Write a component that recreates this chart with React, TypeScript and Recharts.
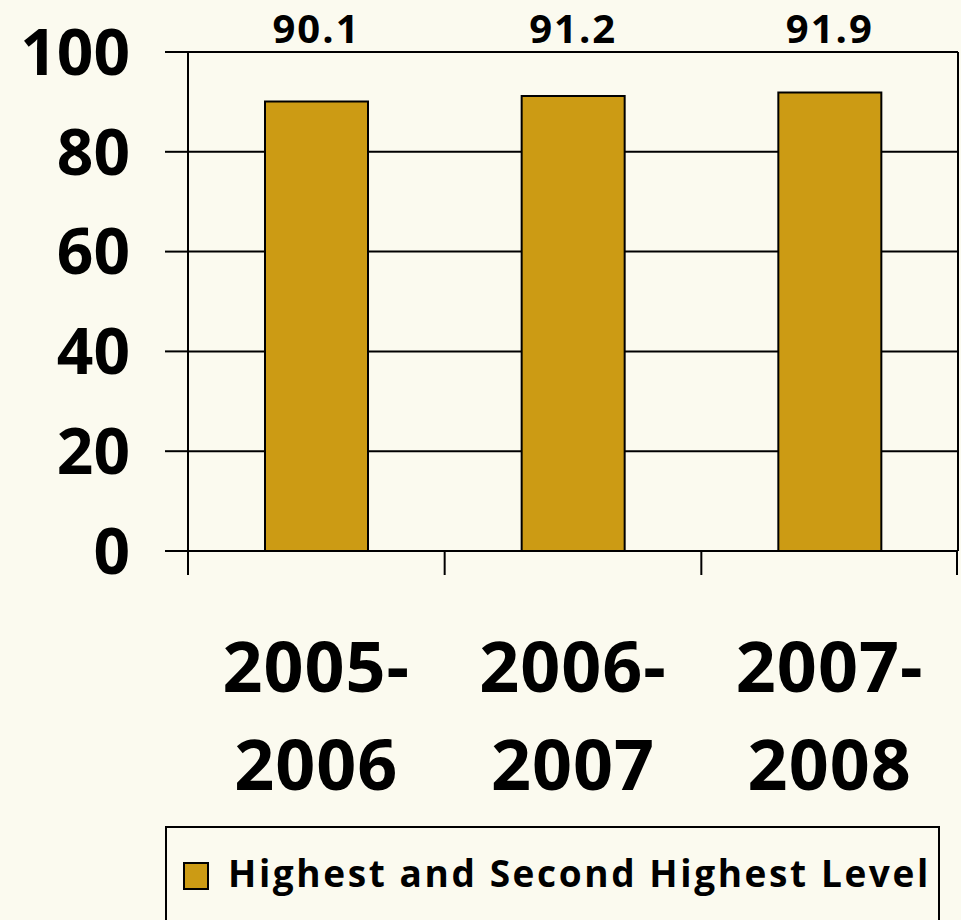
import React from "react";
import { BarChart, Bar, XAxis, YAxis, CartesianGrid, LabelList, Legend } from "recharts";

const categories = ["2005-2006", "2006-2007", "2007-2008"];
const values = [90.1, 91.2, 91.9];
const yTicks = [0, 20, 40, 60, 80, 100];
const seriesName = "Highest and Second Highest Level";

const data = categories.map((c, i) => ({ year: c, value: values[i] }));

const FONT = "'Open Sans', 'DejaVu Sans', sans-serif";
const BAR_COLOR = "#CC9B14";
const BG = "#FBFAEF";

const XTick = (props: any) => {
  const { x, y, payload, index } = props;
  const parts = String(payload.value).split("-");
  const off = Number(payload.offset) || 0;
  const isLast =
    index === categories.length - 1 || String(payload.value) === categories[categories.length - 1];
  return (
    <g>
      {off > 0 && <line x1={x - off} x2={x - off} y1={y} y2={y + 24} stroke="#000" strokeWidth={2} />}
      {off > 0 && isLast && (
        <line x1={x + off - 1} x2={x + off - 1} y1={y - 1} y2={y + 24} stroke="#000" strokeWidth={2} />
      )}
      <text x={x} textAnchor="middle" fontFamily={FONT} fontWeight={700} fontSize={70} fill="#000" letterSpacing={1}>
        <tspan x={x} y={y + 141}>{parts[0] + "-"}</tspan>
        <tspan x={x} y={y + 239}>{parts[1]}</tspan>
      </text>
    </g>
  );
};

const TopLabel = (props: any) => {
  const { x, width, value } = props;
  return (
    <text x={x + width / 2} y={43} textAnchor="middle" fontFamily={FONT} fontWeight={700} fontSize={40} fill="#000" letterSpacing={2}>
      {Number(value).toFixed(1)}
    </text>
  );
};

const LegendBox = () => (
  <div
    style={{
      width: 775,
      height: 110,
      border: "2px solid #000",
      background: "transparent",
      boxSizing: "border-box",
      position: "relative",
    }}
  >
    <div
      style={{
        position: "absolute",
        left: 16,
        top: 34,
        width: 22,
        height: 24,
        background: BAR_COLOR,
        border: "2px solid #000",
      }}
    />
    <div
      style={{
        position: "absolute",
        left: 61,
        top: 21,
        fontFamily: FONT,
        fontWeight: 700,
        fontSize: 37,
        lineHeight: "48px",
        color: "#000",
        whiteSpace: "nowrap",
        letterSpacing: 2.6,
      }}
    >
      {seriesName}
    </div>
  </div>
);

export default function App() {
  return (
    <div style={{ position: "absolute", left: 0, top: 0, width: 961, height: 920, background: BG, overflow: "hidden" }}>
      <BarChart
        width={961}
        height={920}
        data={data}
        margin={{ top: 52, right: 0, left: 0, bottom: 0 }}
        barCategoryGap="30%"
      >
        <CartesianGrid vertical={false} stroke="#000" strokeWidth={2} />
        <XAxis
          dataKey="year"
          tick={<XTick />}
          tickLine={false}
          tickSize={0}
          tickMargin={0}
          axisLine={{ stroke: "#000", strokeWidth: 2 }}
          height={369}
          interval={0}
        />
        <YAxis
          domain={[0, 100]}
          ticks={yTicks}
          width={188}
          tickSize={23}
          tickMargin={35}
          tickLine={{ stroke: "#000", strokeWidth: 2 }}
          axisLine={{ stroke: "#000", strokeWidth: 2 }}
          tick={{ fill: "#000", fontFamily: FONT, fontWeight: 700, fontSize: 64 }}
          interval={0}
        />
        <YAxis
          yAxisId="right"
          orientation="right"
          domain={[0, 100]}
          width={3}
          tick={false}
          tickLine={false}
          axisLine={{ stroke: "#000", strokeWidth: 2 }}
        />
        <Legend
          verticalAlign="middle"
          layout="horizontal"
          content={<LegendBox />}
          wrapperStyle={{ position: "absolute", left: 165, top: 826, width: 775, height: 110 }}
        />
        <Bar dataKey="value" name={seriesName} fill={BAR_COLOR} stroke="#000" strokeWidth={2} isAnimationActive={false}>
          <LabelList dataKey="value" content={<TopLabel />} />
        </Bar>
      </BarChart>
    </div>
  );
}
